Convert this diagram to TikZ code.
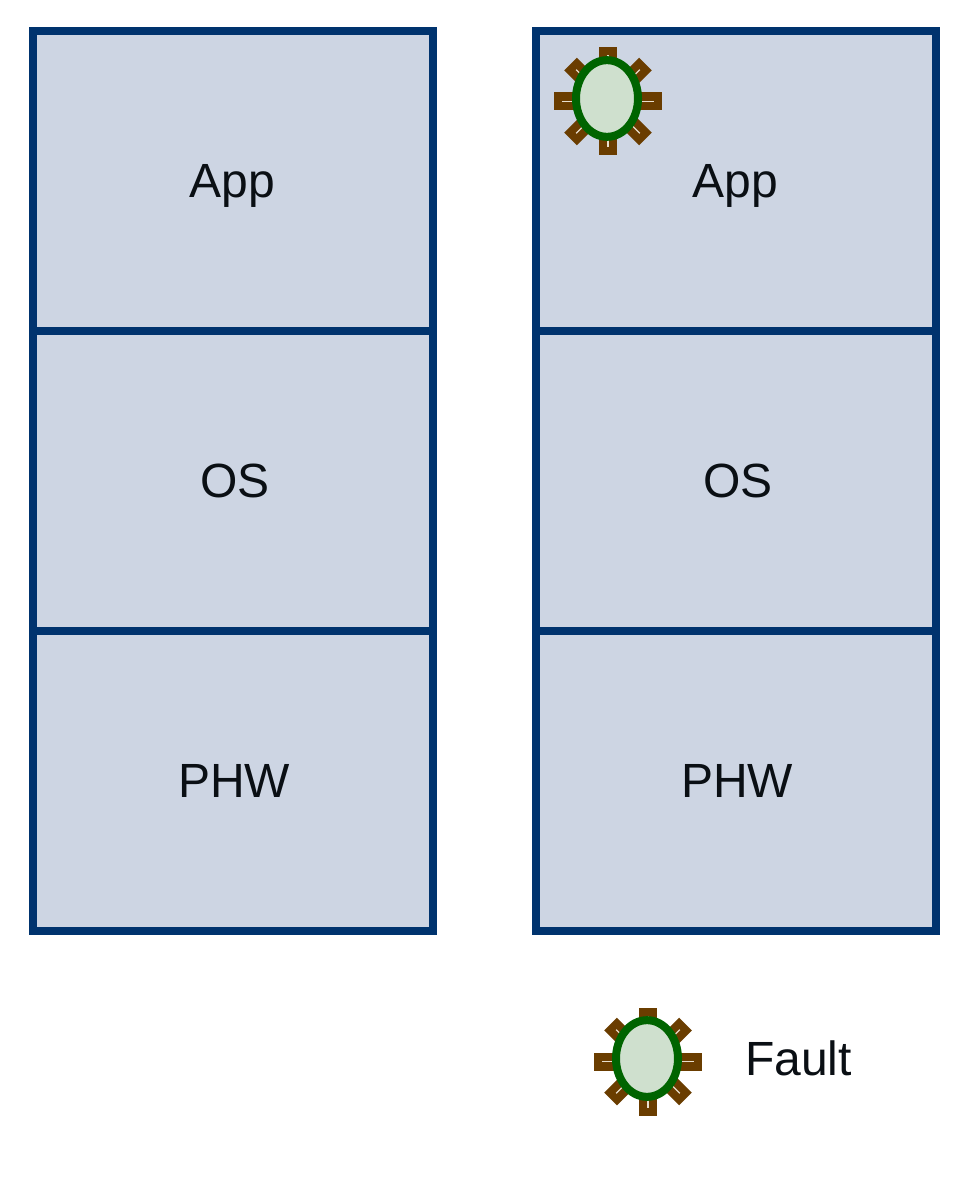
\documentclass[tikz,border=0pt]{standalone}
\usepackage{fontspec}
\setmainfont{Liberation Sans}
\definecolor{boxfill}{HTML}{CDD5E3}
\definecolor{boxline}{HTML}{00336E}
\definecolor{raybrown}{HTML}{6A3D00}
\definecolor{raylight}{HTML}{E8DFCF}
\definecolor{bugline}{HTML}{006400}
\definecolor{bugfill}{HTML}{CFE0CE}
\definecolor{inktext}{HTML}{0A0F14}
\tikzset{
  layerbox/.style={draw=boxline,fill=boxfill,line width=6pt,minimum width=300pt,minimum height=225pt,inner sep=0pt,outer sep=0pt,anchor=north west},
  layertext/.style={font=\fontsize{36pt}{36pt}\selectfont,text=inktext,anchor=base,inner sep=0pt},
  bugbody/.style={draw=bugline,fill=bugfill,line width=6pt,ellipse,minimum width=46.5pt,minimum height=57.5pt,inner sep=0pt,outer sep=0pt},
  pics/fault/.style={code={
    \foreach \a/\r in {0/54,45/53,90/54,135/53,180/54,225/53,270/54,315/53}{
      \draw[raybrown,line width=13.5pt] (0,0) -- (\a:\r);
      \draw[raylight,line width=1pt] (\a:30) -- (\a:\r-8);
    }
    \node[bugbody] (#1) at (-1,-3) {};
  }}
}
\usetikzlibrary{shapes.geometric}
\begin{document}
\begin{tikzpicture}[x=0.75pt,y=-0.75pt]
\useasboundingbox (0,0) rectangle (972,1184);
\node[layerbox] (appL) at (33,31) {};
\node[layerbox] (osL) at (33,331) {};
\node[layerbox] (phwL) at (33,631) {};
\node[layerbox] (appR) at (536,31) {};
\node[layerbox] (osR) at (536,331) {};
\node[layerbox] (phwR) at (536,631) {};
\node[layertext] (tAppL) at (232,197) {App};
\node[layertext] (tOsL) at (235,497) {OS};
\node[layertext] (tPhwL) at (234,797) {PHW};
\node[layertext] (tAppR) at (735,197) {App};
\node[layertext] (tOsR) at (738,497) {OS};
\node[layertext] (tPhwR) at (737,797) {PHW};
\pic at (608,101.5) {fault=bugA};
\pic at (648,1061.5) {fault=bugB};
\node[layertext,anchor=base west] (tFault) at (745,1075) {Fault};
\end{tikzpicture}
\end{document}
